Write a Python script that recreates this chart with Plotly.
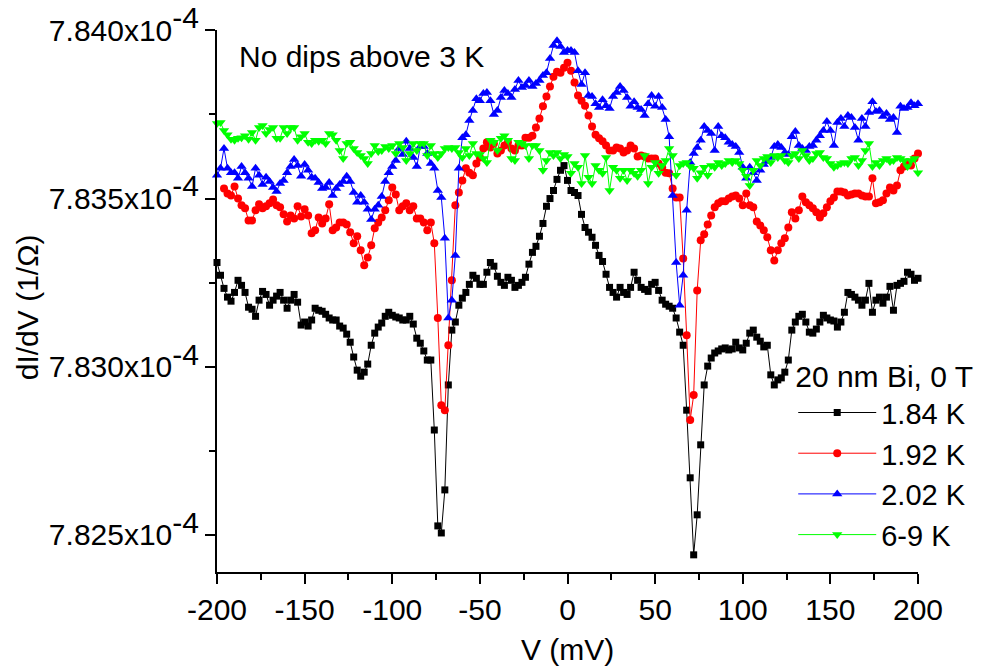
import plotly.graph_objects as go

# Bias voltage (mV)
V_mV = list(range(-200, 201, 2))

# dI/dV values in nS (1e-9 S)
dIdV_184K = [
    783310, 783272, 783233, 783207, 783195, 783221, 783257, 783242, 783221, 783177,
    783171, 783150, 783198, 783224, 783215, 783183, 783198, 783210, 783221, 783198,
    783174, 783198, 783215, 783192, 783124, 783133, 783121, 783139, 783174, 783168,
    783165, 783156, 783145, 783139, 783139, 783121, 783115, 783097, 783073, 783029,
    782990, 782972, 782984, 783008, 783064, 783100, 783118, 783130, 783150, 783162,
    783153, 783148, 783145, 783139, 783139, 783150, 783127, 783085, 783070, 783047,
    783020, 783020, 782812, 782527, 782506, 782634, 782946, 783109, 783133, 783183,
    783204, 783221, 783245, 783272, 783263, 783245, 783245, 783281, 783310, 783299,
    783269, 783251, 783242, 783266, 783257, 783236, 783242, 783251, 783266, 783305,
    783340, 783358, 783388, 783426, 783477, 783500, 783524, 783557, 783584, 783598,
    783554, 783524, 783518, 783509, 783453, 783414, 783400, 783385, 783361, 783331,
    783313, 783275, 783236, 783221, 783207, 783236, 783221, 783215, 783236, 783281,
    783257, 783236, 783230, 783224, 783245, 783251, 783227, 783198, 783186, 783180,
    783174, 783145, 783103, 783064, 782871, 782670, 782441, 782560, 782768, 782946,
    783002, 783026, 783041, 783047, 783053, 783056, 783050, 783053, 783073, 783056,
    783050, 783070, 783100, 783109, 783088, 783076, 783059, 783064, 782976, 782946,
    782961, 782967, 782984, 783020, 783109, 783133, 783150, 783156, 783133, 783103,
    783100, 783112, 783133, 783153, 783145, 783139, 783136, 783118, 783133, 783162,
    783221, 783215, 783207, 783198, 783183, 783198, 783248, 783162, 783198, 783207,
    783189, 783207, 783239, 783168, 783242, 783248, 783254, 783281, 783275, 783257,
    783263,
]

dIdV_192K = [
    None, None, 783530, 783515, 783509, 783536, 783500, 783480, 783471, 783435,
    783435, 783465, 783483, 783471, 783477, 783486, 783497, 783480, 783474, 783453,
    783432, 783450, 783441, 783477, 783447, 783468, 783450, 783397, 783406, 783444,
    783426, 783441, 783483, 783406, 783414, 783429, 783429, 783423, 783400, 783367,
    783388, 783346, 783302, 783325, 783361, 783412, 783429, 783444, 783465, 783495,
    783533, 783512, 783465, 783477, 783486, 783465, 783477, 783441, 783441, 783429,
    783406, 783429, 783367, 783145, 782886, 782871, 783064, 783257, 783480, 783518,
    783554, 783590, 783577, 783569, 783604, 783622, 783649, 783667, 783652, 783664,
    783634, 783643, 783658, 783667, 783649, 783643, 783658, 783658, 783681, 783681,
    783687, 783711, 783738, 783774, 783803, 783833, 783862, 783877, 783874, 783889,
    783904, 783880, 783845, 783806, 783791, 783776, 783747, 783714, 783690, 783679,
    783670, 783658, 783643, 783643, 783652, 783649, 783637, 783643, 783658, 783649,
    783625, 783628, 783625, 783619, 783619, 783619, 783604, 783593, 783577, 783575,
    783530, 783503, 783503, 783322, 783094, 782842, 782916, 783227, 783376, 783394,
    783423, 783450, 783474, 783486, 783492, 783492, 783500, 783506, 783509, 783500,
    783480, 783515, 783480, 783474, 783432, 783420, 783406, 783385, 783346, 783316,
    783346, 783367, 783382, 783414, 783459, 783441, 783465, 783506, 783489, 783480,
    783471, 783459, 783444, 783456, 783474, 783492, 783503, 783521, 783521, 783518,
    783509, 783512, 783515, 783515, 783509, 783506, 783506, 783560, 783486, 783489,
    783495, 783515, 783533, 783524, 783539, 783584, 783595, 783607, 783598, 783619,
    783634,
]

dIdV_202K = [
    783569, 783590, 783649, 783590, 783577, 783577, 783560, 783595, 783577, 783560,
    783536, 783590, 783569, 783542, 783563, 783551, 783533, 783521, 783545, 783554,
    783577, 783595, 783616, 783598, 783566, 783601, 783584, 783563, 783560, 783548,
    783530, 783533, 783548, 783509, 783530, 783542, 783551, 783566, 783551, 783518,
    783489, 783509, 783489, 783468, 783438, 783468, 783480, 783506, 783551, 783577,
    783595, 783613, 783649, 783631, 783670, 783649, 783622, 783595, 783655, 783655,
    783634, 783604, 783590, 783524, 783503, 783382, 783145, 783198, 783331, 783590,
    783681, 783690, 783732, 783762, 783797, 783791, 783812, 783815, 783791, 783750,
    783762, 783800, 783821, 783812, 783800, 783824, 783851, 783830, 783836, 783851,
    783833, 783842, 783851, 783866, 783874, 783916, 783955, 783969, 783952, 783934,
    783940, 783940, 783934, 783880, 783839, 783874, 783806, 783803, 783782, 783771,
    783794, 783776, 783768, 783803, 783815, 783833, 783821, 783800, 783774, 783788,
    783771, 783765, 783747, 783782, 783806, 783774, 783803, 783771, 783735, 783684,
    783509, 783310, 783183, 783272, 783465, 783607, 783634, 783652, 783673, 783714,
    783702, 783693, 783643, 783714, 783687, 783681, 783667, 783661, 783655, 783637,
    783593, 783560, 783593, 783577, 783554, 783584, 783601, 783610, 783622, 783655,
    783661, 783652, 783637, 783631, 783684, 783699, 783658, 783649, 783643, 783655,
    783658, 783673, 783687, 783702, 783729, 783702, 783658, 783726, 783738, 783714,
    783747, 783741, 783711, 783673, 783738, 783714, 783756, 783788, 783759, 783762,
    783744, 783753, 783735, 783741, 783696, 783774, 783768, 783771, 783785, 783776,
    783782,
]

dIdV_6to9K = [
    783723, 783726, 783702, 783690, 783676, 783673, 783679, 783681, 783687, 783676,
    783696, 783673, 783711, 783717, 783693, 783705, 783711, 783679, 783679, 783711,
    783693, 783711, 783711, 783673, 783684, 783693, 783667, 783664, 783673, 783670,
    783673, 783664, 783693, 783690, 783673, 783643, 783619, 783664, 783667, 783649,
    783637, 783628, 783619, 783604, 783634, 783658, 783640, 783643, 783655, 783649,
    783658, 783634, 783664, 783652, 783613, 783634, 783664, 783643, 783664, 783664,
    783628, 783658, 783634, 783622, 783634, 783649, 783652, 783649, 783652, 783637,
    783622, 783649, 783628, 783664, 783634, 783631, 783619, 783607, 783673, 783667,
    783643, 783679, 783687, 783673, 783619, 783613, 783667, 783664, 783658, 783619,
    783658, 783658, 783643, 783584, 783613, 783637, 783628, 783637, 783619, 783631,
    783625, 783575, 783604, 783593, 783545, 783628, 783563, 783545, 783598, 783584,
    783575, 783622, 783524, 783593, 783584, 783560, 783584, 783554, 783584, 783575,
    783566, 783584, 783628, 783545, 783593, 783607, 783575, 783598, 783613, 783649,
    783628, 783569, 783598, 783604, 783607, 783595, 783590, 783560, 783577, 783593,
    783569, 783598, 783593, 783607, 783598, 783604, 783613, 783607, 783613, 783604,
    783584, 783566, 783539, 783584, 783613, 783598, 783619, 783625, 783607, 783628,
    783622, 783628, 783613, 783607, 783628, 783634, 783619, 783643, 783628, 783613,
    783619, 783634, 783637, 783622, 783619, 783604, 783593, 783598, 783604, 783607,
    783604, 783619, 783622, 783598, 783613, 783643, 783664, 783595, 783607, 783598,
    783613, 783619, 783610, 783613, 783622, 783619, 783613, 783595, 783613, 783619,
    783577,
]

series_names = ["1.84 K", "1.92 K", "2.02 K", "6-9 K"]
series_data = [dIdV_184K, dIdV_192K, dIdV_202K, dIdV_6to9K]

x_ticks = [-200, -150, -100, -50, 0, 50, 100, 150, 200]
y_tick_vals = [7.825e-4, 7.830e-4, 7.835e-4, 7.840e-4]
y_tick_labels = ["7.825x10", "7.830x10", "7.835x10", "7.840x10"]
y_exponent = "-4"
y_minor_vals = [7.8275e-4, 7.8325e-4, 7.8375e-4]

styles = [
    dict(color="#000000", symbol="square", size=7),
    dict(color="#ff0000", symbol="circle", size=8),
    dict(color="#0000ff", symbol="triangle-up", size=9),
    dict(color="#00ff00", symbol="triangle-down", size=9),
]

FONT = "Liberation Sans, Arial, Helvetica, sans-serif"

fig = go.Figure()
for name, vals, st in zip(series_names, series_data, styles):
    fig.add_trace(go.Scatter(
        x=V_mV,
        y=[None if v is None else v * 1e-9 for v in vals],
        mode="lines+markers",
        name=name,
        line=dict(color=st["color"], width=1),
        marker=dict(color=st["color"], symbol=st["symbol"], size=st["size"], line=dict(width=0)),
        cliponaxis=False,
    ))

tick_text = ['%s<sup><span style="font-size:30px">%s</span></sup>' % (t, y_exponent) for t in y_tick_labels]

axis_common = dict(
    showgrid=False, zeroline=False, showline=True, linecolor="black", linewidth=2,
    ticks="outside", ticklen=10, tickwidth=2, tickcolor="black", mirror=False,
    tickfont=dict(family=FONT, size=30, color="black"),
    ticklabeloverflow="allow",
)

fig.update_xaxes(
    range=[-200, 200], tickmode="array", tickvals=x_ticks,
    ticktext=[str(v) for v in x_ticks],
    minor=dict(tickmode="linear", tick0=-175, dtick=50, ticks="outside", ticklen=6, tickwidth=2, tickcolor="black"),
    **axis_common,
)
fig.update_yaxes(
    range=[7.8239e-4, 7.84001e-4], tickmode="array", tickvals=y_tick_vals, ticktext=tick_text,
    minor=dict(tickmode="array", tickvals=y_minor_vals, ticks="outside", ticklen=6, tickwidth=2, tickcolor="black"),
    **axis_common,
)

# page body keeps an 8 px margin, so the figure is sized to fit the 988x672 window
fig.update_layout(
    width=980, height=664,
    margin=dict(l=209, r=70, t=22, b=100, autoexpand=False),
    paper_bgcolor="white", plot_bgcolor="white",
    font=dict(family=FONT, size=30, color="black"),
    showlegend=True,
    legend=dict(
        x=0.822, y=0.413, xanchor="left", yanchor="top",
        bgcolor="rgba(0,0,0,0)", borderwidth=0,
        font=dict(family=FONT, size=29, color="black"),
        title=dict(text="20 nm Bi, 0 T", font=dict(family=FONT, size=30, color="black")),
        itemwidth=78, tracegroupgap=0,
    ),
    annotations=[
        dict(text="No dips above 3 K", xref="paper", yref="paper", x=0.029, y=0.952,
             xanchor="left", yanchor="middle", showarrow=False,
             font=dict(family=FONT, size=30, color="black")),
        dict(text="V (mV)", xref="paper", yref="paper", x=0.5, y=-0.143,
             xanchor="center", yanchor="middle", showarrow=False,
             font=dict(family=FONT, size=30, color="black")),
        dict(text="dI/dV (1/Ω)", xref="paper", yref="paper", x=-0.27, y=0.488,
             xanchor="center", yanchor="middle", showarrow=False, textangle=-90,
             font=dict(family=FONT, size=30, color="black")),
    ],
)

fig.write_html("out.html")
